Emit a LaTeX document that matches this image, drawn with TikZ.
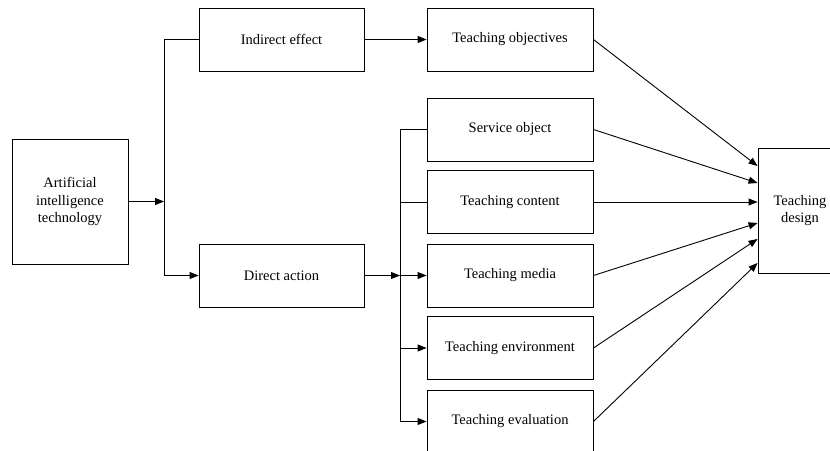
\documentclass[tikz,border=0pt]{standalone}
\usepackage{fontspec}
\setmainfont{Liberation Serif}
\usetikzlibrary{arrows.meta}
\begin{document}
\begin{tikzpicture}[x=1pt,y=-1pt,
  box/.style={draw,line width=0.9pt,minimum width=165pt,minimum height=63pt,
    inner sep=2pt,align=center,font=\fontsize{14.5}{17.5}\selectfont},
  tall/.style={box,minimum height=125pt},
  conn/.style={line width=0.9pt},
  arr/.style={conn,-{Triangle[length=9pt,width=7pt]}}]
\useasboundingbox (0,0) rectangle (830,450);
\clip (0,0) rectangle (830,450);
\fill[white] (0,0) rectangle (830,450);

% source and sink
\node[tall,minimum width=116pt] (ai) at (70,201.5) {Artificial\\intelligence\\technology};
\node[tall,minimum width=84pt] (des) at (800,210.5) {Teaching\\design};

% intermediate effects
\node[box] (ind) at (281.5,39.5) {Indirect effect};
\node[box] (dir) at (281.5,275.5) {Direct action};

% teaching elements
\node[box,minimum width=166pt] (obj) at (510,39.5) {Teaching objectives};
\node[box,minimum width=166pt] (svc) at (510,129.5) {Service object};
\node[box,minimum width=166pt] (cnt) at (510,202) {Teaching content};
\node[box,minimum width=166pt] (med) at (510,275.5) {Teaching media};
\node[box,minimum width=166pt] (env) at (510,348) {Teaching environment};
\node[box,minimum width=166pt] (eva) at (510,421.5) {Teaching evaluation};

% branch points
\coordinate (ja) at (164,201.5);
\coordinate (jb) at (400,275.5);

% first split
\draw[arr] (ai.east) -- (ja);
\draw[conn] (ind.west) -| (ja);
\draw[arr] (ja) |- (dir.west);
\draw[arr] (ind.east) -- (obj.west);

% second split
\draw[arr] (dir.east) -- (jb);
\draw[conn] (svc.west) -| (jb |- eva.west);
\draw[conn] (cnt.west) -- (jb |- cnt.west);
\draw[arr] (jb) -- (med.west);
\draw[arr] (jb |- env.west) -- (env.west);
\draw[arr] (jb |- eva.west) -- (eva.west);

% convergence on teaching design
\draw[arr] (obj.east) -- ([yshift=44.5pt]des.west);
\draw[arr] (svc.east) -- ([yshift=27.5pt]des.west);
\draw[arr] (cnt.east) -- (des.west |- cnt.east);
\draw[arr] (med.east) -- ([yshift=-12.5pt]des.west);
\draw[arr] (env.east) -- ([yshift=-28.5pt]des.west);
\draw[arr] (eva.east) -- ([yshift=-52.5pt]des.west);
\end{tikzpicture}
\end{document}
